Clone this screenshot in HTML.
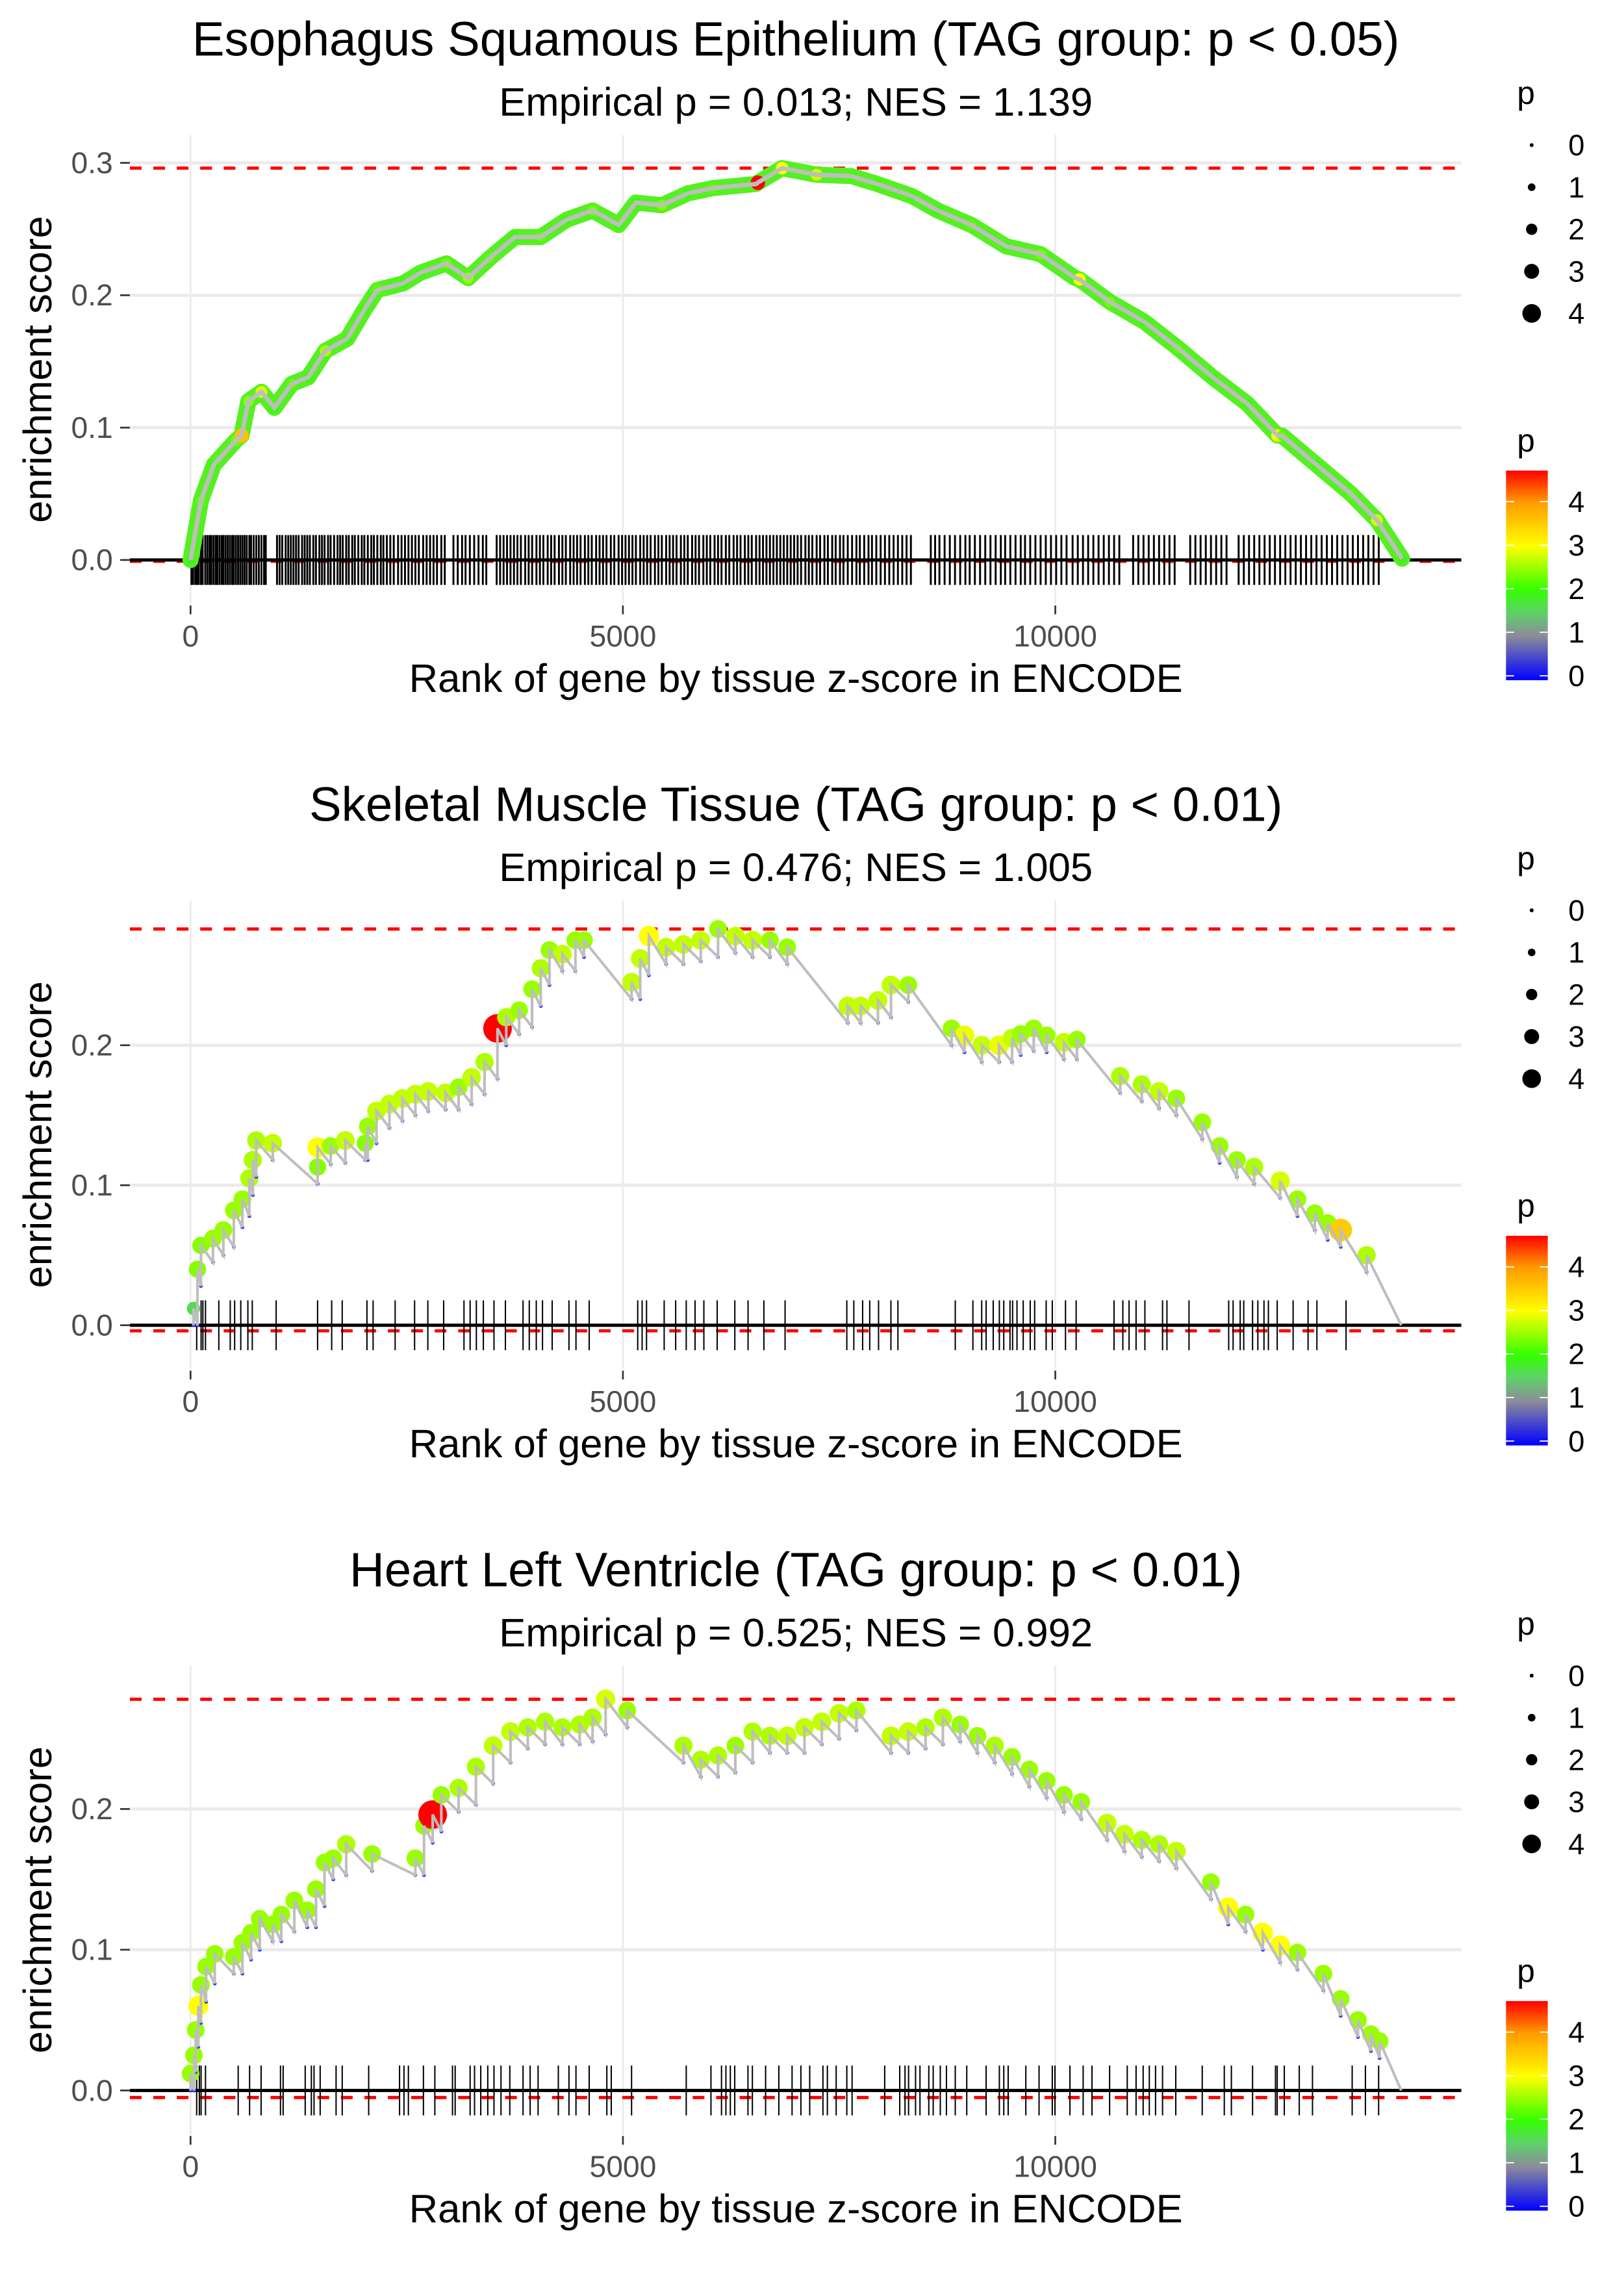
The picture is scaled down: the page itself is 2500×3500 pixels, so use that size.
<!DOCTYPE html>
<html><head><meta charset="utf-8">
<style>
html,body{margin:0;padding:0;background:#fff;}
svg{display:block;font-family:"Liberation Sans",sans-serif;}
</style></head>
<body>
<svg id="chart" xmlns="http://www.w3.org/2000/svg" width="2500" height="3500" viewBox="0 0 1108 1551.2">
<defs>
<linearGradient id="pgrad" x1="0" y1="1" x2="0" y2="0">
<stop offset="0" stop-color="#0000ff"/>
<stop offset="0.21" stop-color="#8c8c9a"/>
<stop offset="0.32" stop-color="#5fd06a"/>
<stop offset="0.43" stop-color="#33ff00"/>
<stop offset="0.64" stop-color="#ffff00"/>
<stop offset="0.85" stop-color="#ff9900"/>
<stop offset="1" stop-color="#ff0000"/>
</linearGradient>
</defs>
</svg>
<script>
// ---------- DATA ----------
const panelTitles = ["Esophagus Squamous Epithelium (TAG group: p < 0.05)","Skeletal Muscle Tissue (TAG group: p < 0.01)","Heart Left Ventricle (TAG group: p < 0.01)"];
const panelSubtitles = ["Empirical p = 0.013; NES = 1.139","Empirical p = 0.476; NES = 1.005","Empirical p = 0.525; NES = 0.992"];
const xTicks = [0,5000,10000];
const yTicks1 = [0,0.1,0.2,0.3];
const yTicks23 = [0,0.1,0.2];
const esMax = [0.296,0.283,0.278];
const esMin = [-0.001,-0.004,-0.005];
const sizeLegendValues = [0,1,2,3,4];
const colorLegendValues = [0,1,2,3,4];

// panel 1 (smooth curve)
const p1Rank = [0,120,270,520,590,670,820,970,1170,1360,1560,1810,2010,2160,2460,2660,2960,3210,3460,3750,4050,4350,4650,4950,5150,5450,5750,6040,6540,6560,6840,7240,7640,7940,8340,8640,9030,9430,9830,10230,10280,10630,11030,11420,11820,12220,12570,12620,13020,13420,13720,14010];
const p1ES   = [0,0.045,0.072,0.09,0.094,0.12,0.127,0.115,0.133,0.138,0.158,0.167,0.189,0.204,0.209,0.217,0.224,0.213,0.228,0.244,0.244,0.257,0.264,0.253,0.27,0.268,0.277,0.281,0.284,0.285,0.296,0.291,0.29,0.284,0.275,0.264,0.253,0.237,0.231,0.213,0.212,0.195,0.18,0.16,0.138,0.118,0.094,0.094,0.072,0.05,0.03,0.001];
const p1P    = [1.8,2.2,2.0,2.3,3.6,2.4,2.8,2.0,2.2,2.0,2.6,2.0,2.0,2.2,2.0,2.0,2.3,2.5,2.2,2.0,2.2,2.0,2.3,2.0,2.0,2.4,2.0,2.2,2.0,4.7,3.0,2.8,2.0,2.0,2.0,2.0,2.2,2.0,2.3,2.0,3.0,2.3,2.0,2.2,2.0,2.0,3.0,2.2,2.0,2.2,2.8,1.8];
const p1Rug = [10,30,55,75,95,120,140,170,195,220,240,265,290,310,335,360,380,405,430,455,480,500,525,550,575,600,625,650,680,700,730,760,790,820,850,870,1000,1030,1060,1100,1130,1160,1190,1220,1250,1290,1320,1350,1380,1420,1450,1490,1520,1550,1590,1620,1660,1700,1730,1760,1800,1830,1870,1900,1940,1980,2010,2050,2090,2120,2160,2200,2230,2270,2310,2350,2400,2440,2480,2520,2560,2600,2640,2690,2730,2770,2810,2850,2900,2940,3040,3090,3140,3180,3230,3280,3330,3380,3420,3540,3580,3620,3660,3700,3740,3780,3820,3870,3910,3950,4000,4040,4080,4130,4170,4210,4260,4300,4340,4390,4430,4470,4510,4560,4600,4640,4690,4730,4770,4810,4860,4900,4950,4990,5030,5070,5110,5150,5200,5240,5280,5320,5370,5410,5450,5500,5540,5580,5620,5670,5710,5750,5800,5840,5880,5930,5970,6010,6060,6100,6140,6190,6230,6280,6320,6360,6410,6450,6490,6540,6580,6620,6660,6700,6740,6780,6820,6860,6900,6940,6980,7020,7060,7110,7150,7190,7240,7280,7330,7370,7420,7460,7510,7550,7600,7650,7700,7740,7790,7840,7880,7930,7980,8030,8080,8130,8180,8230,8280,8330,8560,8610,8660,8720,8780,8840,8900,8960,9010,9070,9130,9190,9250,9310,9370,9420,9480,9540,9600,9650,9710,9770,9830,9890,9950,10010,10070,10130,10200,10260,10320,10380,10440,10500,10560,10620,10680,10740,10900,10960,11020,11080,11140,11200,11260,11320,11380,11560,11620,11680,11740,11800,11860,11920,11980,12120,12180,12240,12300,12360,12420,12480,12540,12600,12660,12720,12780,12840,12900,12960,13020,13080,13140,13200,13260,13320,13380,13440,13500,13560,13620,13680,13740];

// panel 2 (sawtooth)
const p2Rank = [34,80,120,260,380,500,600,680,720,760,950,1470,1470,1620,1790,2020,2050,2150,2300,2450,2600,2750,2950,3100,3250,3400,3550,3650,3800,3950,4050,4150,4300,4450,4550,5100,5200,5300,5500,5700,5900,6100,6300,6500,6700,6900,7600,7750,7950,8100,8300,8800,8950,9150,9350,9500,9600,9750,9900,10100,10250,10750,11000,11200,11400,11700,11900,12100,12300,12600,12800,13000,13150,13300,13600];
const p2ES   = [0.012,0.04,0.057,0.062,0.068,0.082,0.09,0.105,0.118,0.132,0.13,0.113,0.127,0.128,0.132,0.13,0.142,0.153,0.158,0.162,0.165,0.167,0.166,0.17,0.177,0.188,0.212,0.22,0.225,0.24,0.255,0.268,0.265,0.275,0.275,0.245,0.262,0.278,0.27,0.272,0.275,0.283,0.278,0.275,0.275,0.27,0.228,0.228,0.232,0.243,0.243,0.212,0.207,0.2,0.2,0.205,0.208,0.212,0.207,0.202,0.204,0.178,0.172,0.167,0.162,0.145,0.128,0.118,0.113,0.103,0.09,0.08,0.073,0.068,0.05];
const p2P    = [1.6,2.4,2.4,2.5,2.5,2.5,2.5,2.6,2.6,2.6,2.7,2.4,3,2.5,2.7,2.4,2.5,2.7,2.7,2.7,2.7,2.7,2.7,2.5,2.7,2.6,4.7,2.6,2.5,2.5,2.6,2.5,2.7,2.5,2.5,2.7,2.7,3,2.7,2.7,2.7,2.5,2.7,2.7,2.5,2.5,2.7,2.7,2.7,2.7,2.5,2.5,2.9,2.7,2.9,2.7,2.5,2.5,2.5,2.7,2.5,2.6,2.6,2.7,2.5,2.5,2.5,2.5,2.6,2.8,2.5,2.5,2.5,3.5,2.6];
const p2End = [14000,0];
const p2Rug = [71,122,143,173,327,459,510,581,663,714,990,1469,1632,1754,2040,2111,2366,2591,2744,2927,3162,3233,3305,3386,3509,3641,3845,3917,3998,4070,4182,4376,4457,4610,5171,5222,5273,5477,5610,5732,5834,5936,6090,6294,6447,6630,6875,7589,7670,7772,7854,7956,8099,8180,8843,9047,9149,9200,9282,9353,9404,9476,9506,9557,9629,9710,9761,9894,9965,10118,10241,10679,10781,10853,10934,11036,11240,11291,11546,12005,12056,12138,12179,12281,12342,12413,12464,12566,12750,12923,13025,13362];

// panel 3 (sawtooth)
const p3Rank = [0,40,60,90,120,180,280,500,600,700,800,950,1050,1200,1350,1450,1550,1650,1800,2100,2600,2700,2800,2900,3100,3300,3500,3700,3900,4100,4300,4500,4650,4800,5050,5700,5900,6100,6300,6500,6700,6900,7100,7300,7500,7700,8100,8300,8500,8700,8900,9100,9300,9500,9700,9900,10100,10300,10600,10800,11000,11200,11400,11800,12000,12200,12400,12600,12800,13100,13300,13500,13650,13750];
const p3ES   = [0.012,0.025,0.043,0.06,0.075,0.088,0.097,0.095,0.105,0.112,0.122,0.118,0.125,0.135,0.128,0.143,0.162,0.165,0.175,0.168,0.165,0.188,0.196,0.21,0.215,0.23,0.245,0.255,0.258,0.262,0.258,0.26,0.265,0.278,0.27,0.245,0.235,0.238,0.245,0.255,0.252,0.252,0.258,0.262,0.268,0.27,0.252,0.255,0.258,0.265,0.26,0.252,0.245,0.237,0.228,0.22,0.21,0.205,0.19,0.182,0.178,0.175,0.17,0.148,0.13,0.125,0.112,0.103,0.098,0.083,0.065,0.05,0.04,0.035];
const p3P    = [2.5,2.5,2.5,3,2.5,2.5,2.5,2.5,2.5,2.5,2.5,2.5,2.5,2.5,2.5,2.5,2.5,2.5,2.6,2.5,2.5,2.5,4.7,2.5,2.6,2.6,2.7,2.7,2.6,2.6,2.6,2.6,2.6,2.8,2.5,2.6,2.6,2.6,2.5,2.6,2.6,2.7,2.7,2.7,2.7,2.6,2.7,2.7,2.6,2.6,2.5,2.5,2.6,2.5,2.5,2.5,2.5,2.5,2.7,2.7,2.6,2.6,2.7,2.5,3,2.5,3,3,2.5,2.5,2.5,2.5,2.5,2.5];
const p3End = [14000,0];
const p3Rug = [71,102,122,173,551,683,816,1040,1071,1326,1397,1428,1499,1683,1754,2060,2417,2468,2519,2693,2825,3029,3060,3233,3284,3356,3437,3509,3590,3692,3845,3927,4019,4253,4376,4457,4610,4814,4865,5100,5732,6018,6140,6191,6242,6293,6446,6497,6650,6803,6956,7058,7160,7313,7364,7466,7589,7650,8027,8201,8262,8303,8384,8435,8537,8588,8670,8741,8843,8976,9200,9353,9404,9455,9659,9812,9965,9996,10169,10322,10424,10628,10832,10934,11016,11087,11159,11240,11393,11699,11954,12036,12281,12546,12566,12648,12821,12974,13433,13586,13739];

// ---------- RENDER ----------
const svg = document.getElementById('chart');
const NS = 'http://www.w3.org/2000/svg';
function mk(tag, attrs, parent){ const e=document.createElementNS(NS,tag); for(const k in attrs) e.setAttribute(k,attrs[k]); (parent||svg).appendChild(e); return e; }
function colorOf(p){
  const stops=[[0,[0,0,255]],[1,[140,140,154]],[1.5,[95,208,106]],[2,[51,255,0]],[3,[255,255,0]],[4,[255,153,0]],[4.7,[255,0,0]]];
  if(p<=0) return 'rgb(0,0,255)'; if(p>=4.7) return 'rgb(255,0,0)';
  for(let i=1;i<stops.length;i++){ if(p<=stops[i][0]){ const a=stops[i-1],b=stops[i],t=(p-a[0])/(b[0]-a[0]); return 'rgb('+a[1].map((v,j)=>Math.round(v+(b[1][j]-v)*t)).join(',')+')'; } }
}
function rOf(p){ return 1.8+1.7*p; }

const PX0=88.6, PX1=997;
const xScale = r => 130 + r*(295/5000);

function drawPanel(k, ranks, es, ps, rug, yTicks, yPerTenth, smooth, endPt){
  const off = k*522;
  const y0 = 382+off;
  const yScale = v => y0 - v*yPerTenth*10;
  const g = mk('g',{});
  
  
  const t = mk('text',{x:543,y:38+off,'text-anchor':'middle','font-size':33,fill:'#000'},g); t.textContent=panelTitles[k];
   
  const st = mk('text',{x:543,y:79+off,'text-anchor':'middle','font-size':27.3,fill:'#000'},g); st.textContent=panelSubtitles[k];
   
  const top=92+off, bot=412+off;
  yTicks.forEach(v=>{ const l=mk('line',{x1:PX0,x2:PX1,y1:yScale(v),y2:yScale(v),stroke:'#ebebeb','stroke-width':2.2},g);
     
    const tm=mk('line',{x1:82,x2:PX0,y1:yScale(v),y2:yScale(v),stroke:'#333','stroke-width':1.2},g);
     
    const tl=mk('text',{x:77,y:yScale(v)+7,'text-anchor':'end','font-size':20.5,fill:'#4d4d4d'},g); tl.textContent=v.toFixed(1);
      });
  xTicks.forEach(v=>{ const l=mk('line',{x1:xScale(v),x2:xScale(v),y1:top,y2:bot,stroke:'#ebebeb','stroke-width':1.2},g);
     
    const tm=mk('line',{x1:xScale(v),x2:xScale(v),y1:bot+1,y2:bot+7,stroke:'#333','stroke-width':1.2},g);
     
    const tl=mk('text',{x:xScale(v),y:441+off,'text-anchor':'middle','font-size':20.5,fill:'#4d4d4d'},g); tl.textContent=String(v);
      });
  const xt=mk('text',{x:543,y:472+off,'text-anchor':'middle','font-size':27.3,fill:'#000'},g); xt.textContent='Rank of gene by tissue z-score in ENCODE';
   
  const ymid=(top+bot)/2;
  const yt=mk('text',{x:35,y:ymid,'text-anchor':'middle','font-size':27.3,fill:'#000',transform:'rotate(-90 35 '+ymid+')'},g); yt.textContent='enrichment score';
   
  [esMax[k],esMin[k]].forEach((v,i)=>{ const l=mk('line',{x1:PX0,x2:PX1,y1:yScale(v),y2:yScale(v),stroke:'#ff0000','stroke-width':2.2,'stroke-dasharray':'8 8'},g);
      });
  const rg = mk('g',{},g);  
  rug.forEach(r=>{ const l=mk('line',{x1:xScale(r),x2:xScale(r),y1:y0-17,y2:y0+17,stroke:'#000','stroke-width':smooth?1.3:0.9},rg);
      });
  const zl=mk('line',{x1:PX0,x2:PX1,y1:y0,y2:y0,stroke:'#000','stroke-width':2.2},g);
   
  let pts=[]; let lows=[];
  if(smooth){
    pts = ranks.map((r,i)=>[xScale(r),yScale(es[i])]);
  } else {
    for(let i=0;i<ranks.length;i++){
      const prev = i>0?es[i-1]:0;
      const low = Math.max(Math.min(prev, es[i]) - 0.012, 0);
      pts.push([xScale(ranks[i]), yScale(low)]);
      lows.push([xScale(ranks[i]), yScale(low)]);
      pts.push([xScale(ranks[i]), yScale(es[i])]);
    }
    pts.push([xScale(endPt[0]), yScale(endPt[1])]);
  }
  const ptsStr = pts.map(p=>p[0].toFixed(1)+','+p[1].toFixed(1)).join(' ');
  if(smooth){
    const halo=mk('polyline',{points:ptsStr,fill:'none',stroke:'#55f022','stroke-width':11,'stroke-linejoin':'round','stroke-linecap':'round'},g);
     
  }
  const pg = mk('g',{},g);  
  ranks.forEach((r,i)=>{
    const rad = smooth ? Math.min(rOf(ps[i]),8)*0.62 : rOf(ps[i]);
    const c=mk('circle',{cx:xScale(r),cy:yScale(es[i]),r:rad,fill:colorOf(ps[i])},pg);
     
  });
  lows.forEach(p=>{
    const c=mk('circle',{cx:p[0],cy:p[1],r:1.3,fill:'#3333ff'},pg);
     
  });
  const line=mk('polyline',{points:ptsStr,fill:'none',stroke:'#bebebe','stroke-width':smooth?3:1.8},g);
  
  

  const lg = mk('g',{},g);  
  const lt=mk('text',{x:1035,y:71+off,'font-size':22,fill:'#000'},lg); lt.textContent='p';
   
  sizeLegendValues.forEach((v,i)=>{
    const cy=99+off+i*28.7;
    const c=mk('circle',{cx:1045,cy:cy,r:rOf(v)*0.74,fill:'#000'},lg);
     
    const tx=mk('text',{x:1070,y:cy+7,'font-size':20,fill:'#000'},lg); tx.textContent=String(v);
     
  });
  const cg = mk('g',{},g);  
  const ct=mk('text',{x:1035,y:308+off,'font-size':22,fill:'#000'},cg); ct.textContent='p';
   
  const barTop=321+off, barBot=464+off;
  const bar=mk('rect',{x:1027.5,y:barTop,width:28.5,height:barBot-barTop,fill:'url(#pgrad)'},cg);
   
  colorLegendValues.forEach(v=>{
    const yy = 461+off - v*29.7;
    const a=mk('line',{x1:1027.5,x2:1033,y1:yy,y2:yy,stroke:'#fff','stroke-width':0.8},cg);
     
    const b=mk('line',{x1:1050.5,x2:1056,y1:yy,y2:yy,stroke:'#fff','stroke-width':0.8},cg);
     
    const tx=mk('text',{x:1070,y:yy+7,'font-size':20,fill:'#000'},cg); tx.textContent=String(v);
     
  });
}

drawPanel(0, p1Rank, p1ES, p1P, p1Rug, yTicks1, 90.3, true, null);
drawPanel(1, p2Rank, p2ES, p2P, p2Rug, yTicks23, 95.5, false, p2End);
drawPanel(2, p3Rank, p3ES, p3P, p3Rug, yTicks23, 96.0, false, p3End);
</script>
</body></html>
